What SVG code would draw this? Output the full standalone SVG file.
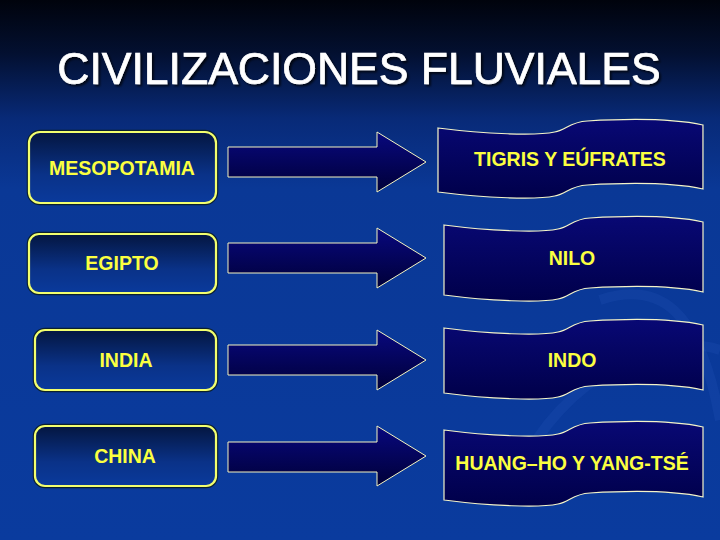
<svg xmlns="http://www.w3.org/2000/svg" width="720" height="540" viewBox="0 0 720 540">
<defs>
<linearGradient id="bg" x1="0" y1="0" x2="0" y2="1">
<stop offset="0" stop-color="#00030c"/>
<stop offset="0.1" stop-color="#031031"/>
<stop offset="0.22" stop-color="#082a78"/>
<stop offset="0.35" stop-color="#0a3896"/>
<stop offset="1" stop-color="#0a3b9e"/>
</linearGradient>
<linearGradient id="boxg" x1="0" y1="0" x2="0" y2="1">
<stop offset="0" stop-color="#041640"/>
<stop offset="0.6" stop-color="#0a3288"/>
<stop offset="1" stop-color="#0a3a9c"/>
</linearGradient>
<linearGradient id="arrg" x1="0" y1="0" x2="0" y2="1">
<stop offset="0" stop-color="#08087e"/>
<stop offset="1" stop-color="#000038"/>
</linearGradient>
<linearGradient id="bang" x1="0" y1="0" x2="0" y2="1">
<stop offset="0" stop-color="#080874"/>
<stop offset="1" stop-color="#00004a"/>
</linearGradient>
<filter id="sh" x="-5%" y="-20%" width="110%" height="140%">
<feDropShadow dx="2" dy="2" stdDeviation="0.8" flood-color="#000000" flood-opacity="0.7"/>
</filter>
<style>
.box{fill:url(#boxg);stroke:#f2ff6e;stroke-width:2.2}
.boxo{fill:none;stroke:#0b2030;stroke-width:4.5}
.arr{fill:url(#arrg);stroke:#f4f4c0;stroke-width:1}
.ban{fill:url(#bang);stroke:#f4f4c8;stroke-width:1.2}
.lbl{font-family:"Liberation Sans",Arial,sans-serif;font-weight:bold;font-size:19.5px;fill:#fbff40;text-anchor:middle}
.ttl{font-family:"Liberation Sans",Arial,sans-serif;font-size:44.5px;text-anchor:middle;fill:#ffffff;stroke:#ffffff;stroke-width:0.7}
</style>
</defs>
<rect width="720" height="540" fill="url(#bg)"/>
<g fill="none" stroke="#2a5cc0" stroke-opacity="0.18" stroke-width="10">
<path d="M520,470 C560,380 660,330 720,350"/>
<path d="M600,300 C660,280 700,310 720,420"/>
</g>
<g id="title">
<text class="ttl" x="359" y="84" filter="url(#sh)">CIVILIZACIONES FLUVIALES</text>
</g>
<g id="mesopotamia">
<rect class="boxo" x="29" y="132" width="187" height="71" rx="11"/>
<rect class="box" x="29" y="132" width="187" height="71" rx="11"/>
<text class="lbl" x="122" y="175">MESOPOTAMIA</text>
</g>
<g id="egipto">
<rect class="boxo" x="29" y="234" width="187" height="59" rx="10"/>
<rect class="box" x="29" y="234" width="187" height="59" rx="10"/>
<text class="lbl" x="122" y="270">EGIPTO</text>
</g>
<g id="india">
<rect class="boxo" x="35" y="330" width="181" height="60" rx="10"/>
<rect class="box" x="35" y="330" width="181" height="60" rx="10"/>
<text class="lbl" x="126" y="367">INDIA</text>
</g>
<g id="china">
<rect class="boxo" x="35" y="426" width="181" height="60" rx="10"/>
<rect class="box" x="35" y="426" width="181" height="60" rx="10"/>
<text class="lbl" x="125" y="463">CHINA</text>
</g>
<g id="connectors">
<path class="arr" d="M228,147 L377,147 L377,132 L426,162 L377,192 L377,177 L228,177 Z"/>
<path class="arr" d="M228,243 L377,243 L377,228 L426,258 L377,288 L377,273 L228,273 Z"/>
<path class="arr" d="M228,345 L377,345 L377,330 L426,360 L377,390 L377,375 L228,375 Z"/>
<path class="arr" d="M228,442 L377,442 L377,426 L426,456 L377,486 L377,472 L228,472 Z"/>
</g>
<g id="tigris">
<path class="ban" transform="translate(438,120) scale(1.023,1)" d="M0,8 C46,14 96,16 114,12 C126,10 128,2 146,1 C196,-2 236,0 259,5 L259,69 C236,64 196,62 146,65 C128,66 126,74 114,76 C96,80 46,78 0,72 Z"/>
<text class="lbl" x="570" y="166">TIGRIS Y EÚFRATES</text>
</g>
<g id="nilo">
<path class="ban" transform="translate(444,217)" d="M0,8 C46,14 96,16 114,12 C126,10 128,2 146,1 C196,-2 236,0 259,5 L259,75 C236,70 196,68 146,71 C128,72 126,80 114,82 C96,86 46,84 0,78 Z"/>
<text class="lbl" x="572" y="265">NILO</text>
</g>
<g id="indo">
<path class="ban" transform="translate(444,320)" d="M0,8 C46,14 96,16 114,12 C126,10 128,2 146,1 C196,-2 236,0 259,5 L259,70 C236,65 196,63 146,66 C128,67 126,75 114,77 C96,81 46,79 0,73 Z"/>
<text class="lbl" x="572" y="367">INDO</text>
</g>
<g id="huang">
<path class="ban" transform="translate(444,422)" d="M0,8 C46,14 96,16 114,12 C126,10 128,2 146,1 C196,-2 236,0 259,5 L259,75 C236,70 196,68 146,71 C128,72 126,80 114,82 C96,86 46,84 0,78 Z"/>
<text class="lbl" x="572" y="470">HUANG–HO Y YANG-TSÉ</text>
</g>
</svg>
